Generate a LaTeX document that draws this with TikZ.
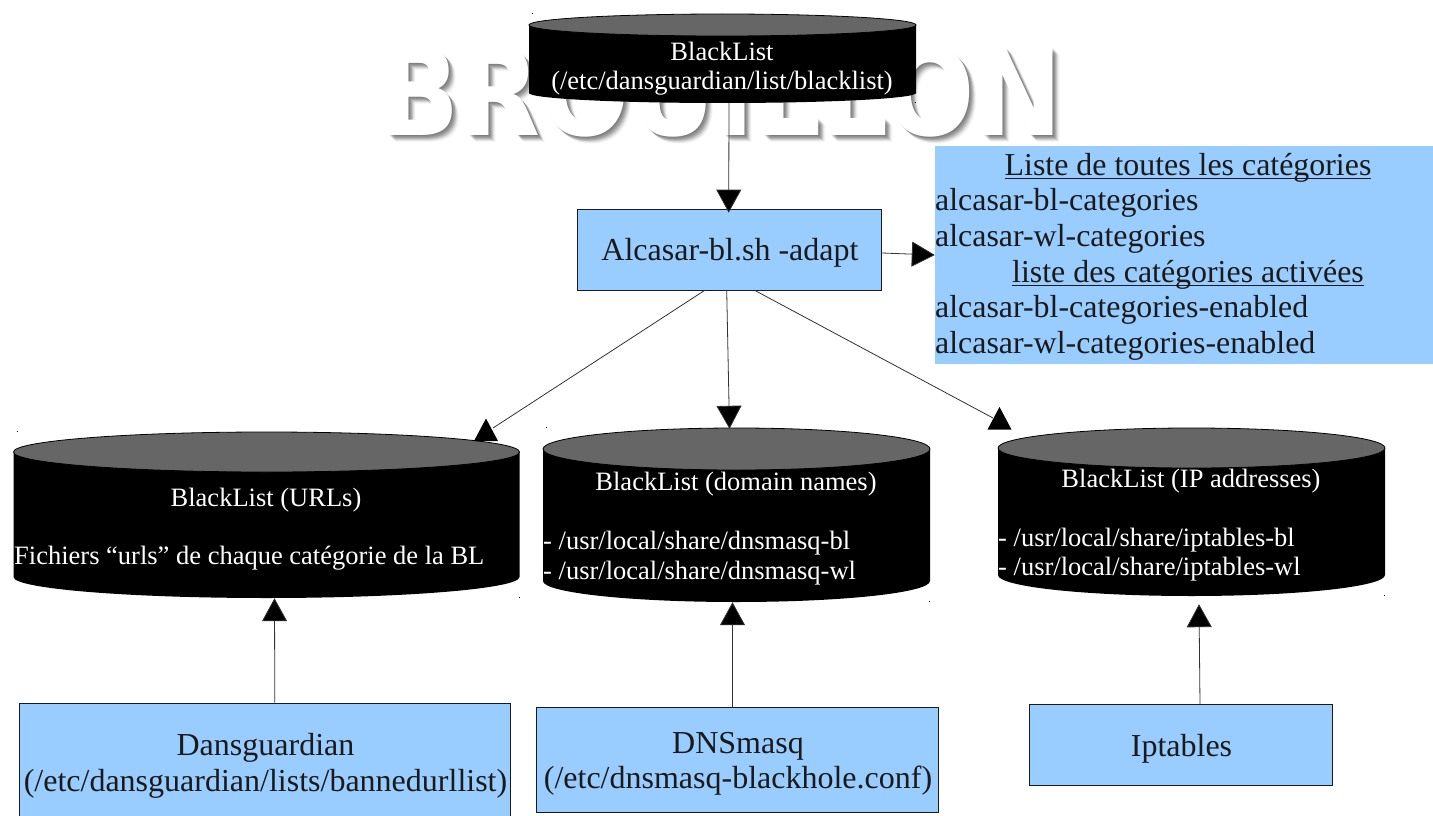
\documentclass[tikz,border=0pt]{standalone}
\usepackage{fontspec}
\usetikzlibrary{arrows.meta,calc}
\setmainfont{Liberation Serif}
\newfontfamily\wmfont{DejaVu Sans}
\definecolor{boxblue}{HTML}{99CCFF}
\definecolor{lidgray}{HTML}{666666}
\definecolor{inktext}{HTML}{1A1A1A}
\newcommand{\fs}[1]{\fontsize{#1}{#1}\selectfont}
\newcommand{\ulx}[1]{\setbox0\hbox{#1}\rlap{\vrule width\wd0 height -2.6pt depth 3.9pt}\box0}
% \dbcyl{name}{x1}{x2}{ytop}{ycentre}{ylow}{ybottom}
\newcommand{\dbcyl}[7]{%
  \pgfmathsetmacro{\mx}{(#2+#3)/2}\pgfmathsetmacro{\rx}{(#3-#2)/2}%
  \pgfmathsetmacro{\rt}{#5-#4}\pgfmathsetmacro{\rb}{#7-#6}%
  \fill[black] (#2,#5) -- (#2,#6) arc[start angle=180,end angle=0,x radius=\rx,y radius=\rb] -- (#3,#5) -- cycle;
  \filldraw[fill=lidgray,draw=black,line width=.8pt] (\mx,#5) ellipse[x radius=\rx,y radius=\rt];
  \node[inner sep=0,minimum width=#3 pt-#2 pt,minimum height=#7 pt-#4 pt] (#1) at (\mx,{(#4+#7)/2}) {};
  \fill[black] (#2+3,#4-1) rectangle +(1,1);
  \fill[black] (#3-1,#7-1) rectangle +(1,1);
}
% free-standing upright arrow head: apex at (x,y)
\newcommand{\uphead}[2]{\fill[black] (#1,#2) -- (#1-12,#2+22.5) -- (#1+12,#2+22.5) -- cycle;}
\tikzset{
  x=1pt,y=-1pt,
  bluebox/.style={draw=inktext,line width=.7pt,fill=boxblue,inner sep=0},
  boxtext/.style={text=inktext,inner sep=0,anchor=base,font=\fs{32}},
  link/.style={draw=black!80,line width=.8pt,-{Triangle[length=23pt,width=25pt,fill=black]}},
  plainlink/.style={draw=black!80,line width=.8pt},
  cyltext/.style={text=white,inner sep=0,anchor=base,font=\fs{26.5}},
  cylleft/.style={text=white,inner sep=0,anchor=base west,font=\fs{26.5}},
  catline/.style={text=inktext,inner sep=0,anchor=base west,font=\fs{31.9}},
  cathead/.style={text=inktext,inner sep=0,anchor=base,font=\fs{31.9}},
  wmark/.style={font=\wmfont\bfseries\fs{120},inner sep=0,anchor=center},
}
\newcommand{\wmtext}{\scalebox{.877}[1]{BROUILLON}}
\begin{document}
\begin{tikzpicture}
\useasboundingbox (0,0) rectangle (1433,816);
\fill[white] (0,0) rectangle (1433,816);
% watermark
\foreach \d/\o in {1/.10,2/.10,3/.12,4/.12,5/.10,6/.06,7/.04}{
  \node[wmark,text=black,opacity=\o] (wmshadow\d) at (721+\d,92+\d) {\wmtext};
}
\node[wmark,text=white] (wm) at (721,92) {\wmtext};
% databases
\dbcyl{top}{529}{916}{14}{25}{93}{103}
\dbcyl{urls}{13.5}{519.5}{432}{452}{577}{598}
\dbcyl{dns}{543}{930}{428}{449}{581}{602}
\dbcyl{ipt}{998}{1385}{428}{448}{575}{596}
% boxes
\node[bluebox,minimum width=304pt,minimum height=81pt] (adapt) at (729.7,249.5) {};
\node[fill=boxblue,inner sep=0,minimum width=498pt,minimum height=218pt] (cats) at (1184,255) {};
\node[bluebox,minimum width=491pt,minimum height=113pt] (dg) at (265.3,759.5) {};
\node[bluebox,minimum width=402pt,minimum height=105pt] (dm) at (737.5,759.5) {};
\node[bluebox,minimum width=303pt,minimum height=81pt] (ip) at (1181,745.3) {};
% box text
\node[boxtext] (at) at (730,260) {Alcasar-bl.sh -adapt};
\node[boxtext] (dg1) at (265.5,755) {Dansguardian};
\node[boxtext] (dg2) at (265.5,791) {(/etc/dansguardian/lists/bannedurllist)};
\node[boxtext] (dm1) at (738,753) {DNSmasq};
\node[boxtext] (dm2) at (738,788) {(/etc/dnsmasq-blackhole.conf)};
\node[boxtext] (ipl) at (1181.5,756) {Iptables};
% cylinder text
\node[cyltext] (t1) at (722,60) {BlackList};
\node[cyltext] (t2) at (722,89) {(/etc/dansguardian/list/blacklist)};
\node[cyltext] (u1) at (266,506) {BlackList (URLs)};
\node[cylleft] (u2) at (14,564) {Fichiers “urls” de chaque catégorie de la BL};
\node[cyltext] (d1) at (736,490) {BlackList (domain names)};
\node[cylleft] (d2) at (543,549.5) {- /usr/local/share/dnsmasq-bl};
\node[cylleft] (d3) at (543,579) {- /usr/local/share/dnsmasq-wl};
\node[cyltext] (i1) at (1191,487) {BlackList (IP addresses)};
\node[cylleft] (i2) at (998,546) {- /usr/local/share/iptables-bl};
\node[cylleft] (i3) at (998,575) {- /usr/local/share/iptables-wl};
% categories text
\node[cathead] (c1) at (1188,175) {\ulx{Liste de toutes les catégories}};
\node[catline] (c2) at (935,210) {alcasar-bl-categories};
\node[catline] (c3) at (935,246) {alcasar-wl-categories};
\node[cathead] (c4) at (1188,282) {\ulx{liste des catégories activées}};
\node[catline] (c5) at (935,317) {alcasar-bl-categories-enabled};
\node[catline] (c6) at (935,353) {alcasar-wl-categories-enabled};
% connectors
\coordinate (urlsin) at (493,428);
\coordinate (iptin) at (993,418);
\draw[link] ([xshift=6.5pt]top.south) -- ([xshift=-1pt,yshift=-4pt]adapt.north);
\draw[link] ([yshift=-3.5pt]adapt.east) -- (cats.west);
\draw[plainlink] ([xshift=-25pt]adapt.south) -- (urlsin);
\uphead{486}{418.5}
\draw[link] ([xshift=-3pt]adapt.south) -- ([xshift=-7pt,yshift=-1pt]dns.north);
\draw[plainlink] ([xshift=25pt]adapt.south) -- (iptin);
\uphead{999.5}{407}
\draw[link] ([xshift=9.5pt]dg.north) -- ([xshift=8pt]urls.south);
\draw[link] ([xshift=-5pt]dm.north) -- ([xshift=-4pt]dns.south);
\draw[link] ([xshift=19pt]ip.north) -- ([xshift=7.5pt,yshift=-8pt]ipt.south);
\end{tikzpicture}
\end{document}
